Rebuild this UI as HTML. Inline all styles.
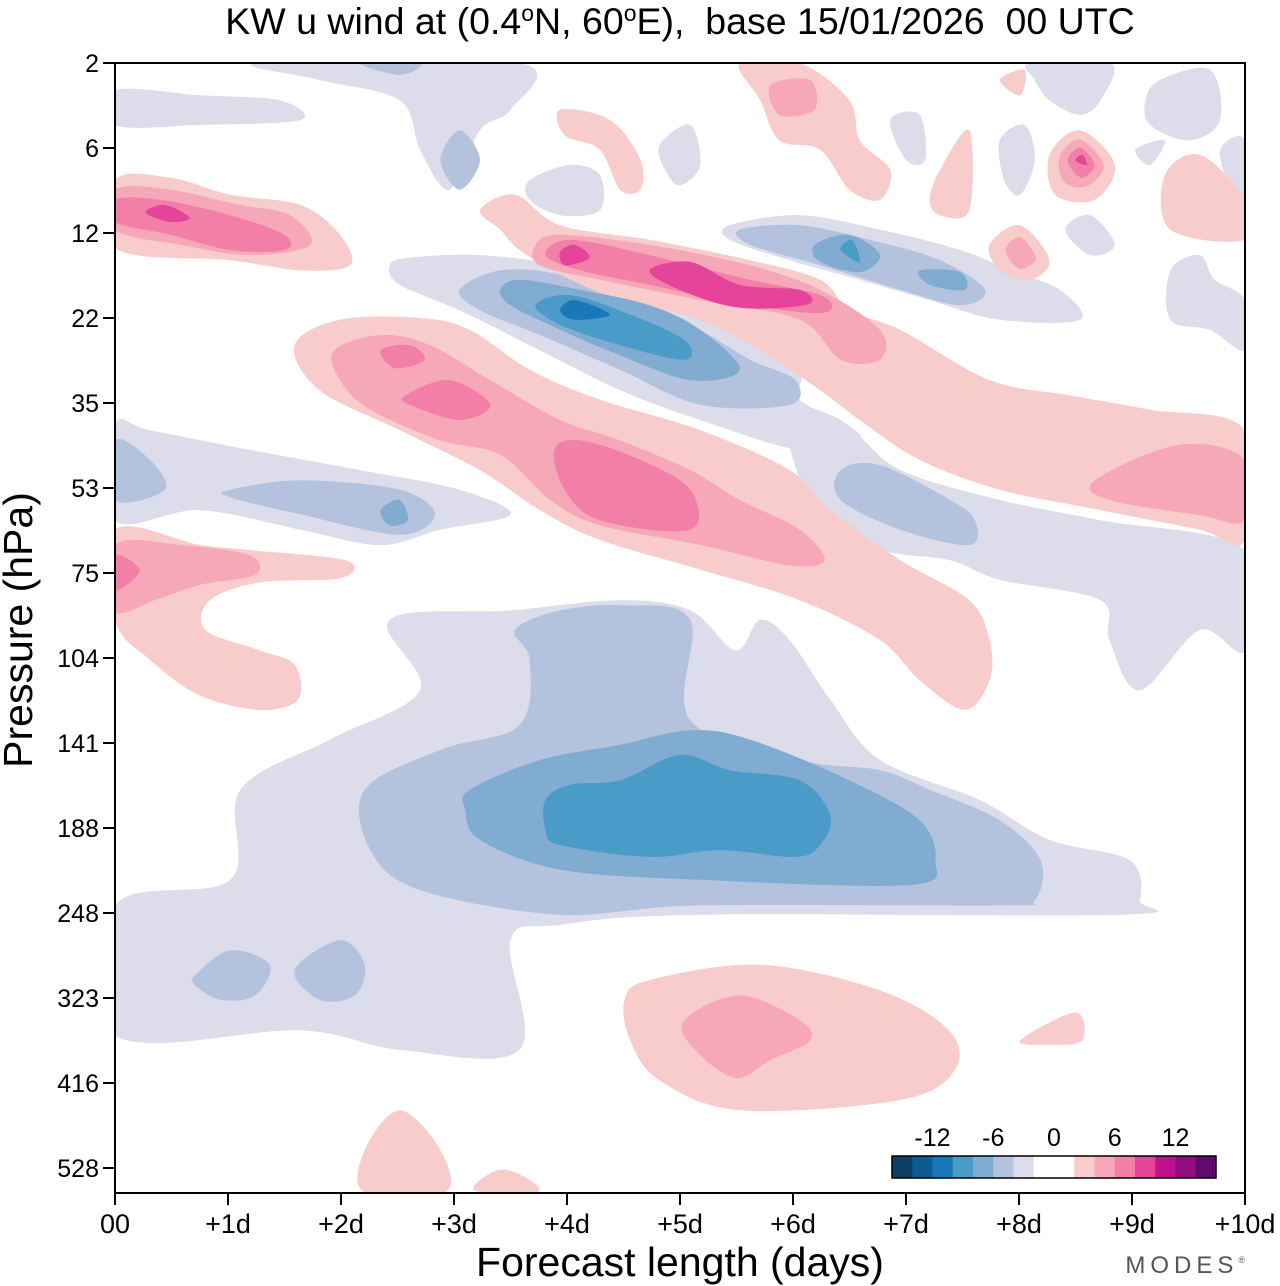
<!DOCTYPE html>
<html><head><meta charset="utf-8">
<style>
body{margin:0;background:#fff;}
svg{display:block;font-family:"Liberation Sans",sans-serif;}
</style></head>
<body>
<svg id="chart" width="1280" height="1286" viewBox="0 0 1280 1286">
<text x="680" y="34" font-size="37.5" text-anchor="middle" style="white-space:pre">KW u wind at (0.4<tspan dy="-13" font-size="23">o</tspan><tspan dy="13">N, 60</tspan><tspan dy="-13" font-size="23">o</tspan><tspan dy="13">E),  base 15/01/2026  00 UTC</tspan></text>
<g id="plot"></g>
<g id="axes"></g>
<text x="680" y="1276" font-size="41" text-anchor="middle">Forecast length (days)</text>
<text transform="translate(32,630) rotate(-90)" font-size="41" text-anchor="middle">Pressure (hPa)</text>
<text x="1250" y="1273" font-size="24" text-anchor="end" fill="#555" letter-spacing="5">MODES<tspan font-size="9" dy="-10">®</tspan></text>
<g id="legend"></g>
</svg>
<script>
const pressureLabels=["2","6","12","22","35","53","75","104","141","188","248","323","416","528"];
const dayLabels=["00","+1d","+2d","+3d","+4d","+5d","+6d","+7d","+8d","+9d","+10d"];
const levelColors={"-5":"#0b5c8f","-4":"#1779b8","-3":"#4a9bc8","-2":"#80acd2","-1":"#b3c3dd","0":"#dcdcea","1":"#f9cccc","2":"#f6a8b8","3":"#f27fa8","4":"#e6449a"};
const legendColors=["#0b3e62","#0b5c8f","#1779b8","#4a9bc8","#80acd2","#b3c3dd","#dcdcea","#ffffff","#ffffff","#f9cccc","#f6a8b8","#f27fa8","#e6449a","#c0118a","#8f0d7e","#5e0a6e"];
const legendLabels=["-12","-6","0","6","12"];
const legendValues=[-12,-6,0,6,12];
// contour regions: level and vertices [day, pressure-level index]
const regions=[
{lv:0,p:[[0,9.91],[1.02,9.61],[1.11,8.55],[1.9,7.96],[2.7,7.38],[2.43,6.55],[3.5,6.44],[4.47,6.32],[5.09,6.44],[5.49,6.91],[5.71,6.55],[5.97,6.79],[6.33,7.49],[6.77,8.2],[7.65,8.67],[8.27,9.14],[8.98,9.38],[9.07,9.85],[8.89,10.02],[5.18,10.02],[3.94,10.14],[3.5,10.32],[3.58,11.61],[2.52,11.61],[1.64,11.38],[0,11.44]]},
{lv:0,p:[[0,4.26],[0.31,4.32],[1.19,4.55],[2.17,4.79],[3.05,5.02],[3.5,5.31],[2.88,5.49],[2.35,5.67],[1.64,5.49],[0.75,5.26],[0,5.38]]},
{lv:0,p:[[5.97,4.2],[6.5,4.32],[6.95,4.79],[7.83,5.14],[8.72,5.38],[10,5.73],[10,6.91],[9.6,6.67],[9.07,7.38],[8.8,6.79],[8.72,6.32],[7.83,6.08],[7.39,5.85],[6.77,5.73],[6.24,5.38],[6.06,4.91]]},
{lv:0,p:[[2.43,2.38],[2.61,2.29],[3.23,2.26],[3.94,2.38],[4.47,2.61],[5.18,2.91],[5.71,3.26],[6.06,3.61],[6.06,3.96],[6.42,4.2],[6.59,4.44],[6.06,4.55],[5.18,4.2],[4.47,3.85],[3.76,3.38],[3.05,2.91],[2.52,2.61]]},
{lv:0,p:[[5.44,1.91],[6.06,1.79],[6.77,1.96],[7.48,2.2],[7.92,2.44],[8.36,2.67],[8.54,3.02],[7.83,3.02],[7.21,2.79],[6.59,2.55],[5.97,2.32],[5.44,2.08]]},
{lv:0,p:[[0,0.32],[0.75,0.38],[1.46,0.44],[1.64,0.67],[0.75,0.73],[0,0.73]]},
{lv:0,p:[[1.28,0],[3.58,0],[3.5,0.55],[3.23,0.79],[2.96,1.49],[2.7,1.02],[2.52,0.44],[1.81,0.2]]},
{lv:0,p:[[3.67,1.38],[4.03,1.2],[4.29,1.32],[4.29,1.73],[3.94,1.79],[3.67,1.61]]},
{lv:0,p:[[4.82,0.96],[5.09,0.73],[5.18,1.2],[5,1.44],[4.87,1.26]]},
{lv:0,p:[[8.1,0],[8.81,0],[8.72,0.44],[8.54,0.61],[8.27,0.44],[8.14,0.2]]},
{lv:0,p:[[9.25,0.2],[9.69,0.08],[9.78,0.67],[9.51,0.91],[9.16,0.73],[9.12,0.44]]},
{lv:0,p:[[7.83,0.91],[8.05,0.73],[8.14,1.14],[8.01,1.55],[7.87,1.38]]},
{lv:0,p:[[9.03,1.02],[9.29,0.91],[9.16,1.2]]},
{lv:0,p:[[9.78,1.02],[10,0.91],[10,1.79],[9.87,1.49]]},
{lv:0,p:[[9.34,2.44],[9.6,2.26],[9.73,2.55],[10,2.79],[10,3.38],[9.69,3.14],[9.34,3.02]]},
{lv:0,p:[[8.41,1.96],[8.63,1.79],[8.85,2.14],[8.63,2.26]]},
{lv:0,p:[[6.86,0.67],[7.12,0.61],[7.17,1.14],[7,1.14]]},
{lv:-1,p:[[2.21,8.55],[2.88,8.08],[3.58,7.79],[3.67,7.02],[3.54,6.67],[3.94,6.44],[4.51,6.38],[5.09,6.55],[5.09,7.73],[6.06,8.2],[6.77,8.32],[7.21,8.55],[7.83,8.91],[8.19,9.38],[8.14,9.85],[7.83,9.91],[5.18,9.91],[3.94,10.02],[2.7,9.73],[2.26,9.26]]},
{lv:-1,p:[[0.71,10.73],[1.02,10.44],[1.37,10.61],[1.24,10.97],[0.93,11.02],[0.71,10.85]]},
{lv:-1,p:[[1.59,10.67],[1.99,10.32],[2.21,10.61],[2.12,10.97],[1.81,11.02]]},
{lv:-1,p:[[0,4.44],[0.31,4.67],[0.44,5.02],[0,5.14]]},
{lv:-1,p:[[1.02,5.02],[1.64,4.91],[2.52,5.02],[2.83,5.31],[2.52,5.55],[1.64,5.31],[1.02,5.11]]},
{lv:-1,p:[[6.42,4.79],[6.77,4.73],[7.39,5.14],[7.61,5.38],[7.56,5.67],[6.95,5.49],[6.42,5.14]]},
{lv:-1,p:[[3.05,2.67],[3.41,2.44],[3.94,2.49],[4.65,2.79],[5.18,3.14],[5.62,3.49],[6.02,3.73],[5.97,4.02],[5.18,4.02],[4.47,3.61],[3.76,3.2],[3.23,2.91]]},
{lv:-1,p:[[5.53,1.96],[6.06,1.91],[6.68,2.08],[7.3,2.32],[7.7,2.67],[7.48,2.85],[6.95,2.67],[6.24,2.38],[5.62,2.14]]},
{lv:-1,p:[[2.17,0],[2.7,0],[2.52,0.14]]},
{lv:-1,p:[[2.88,1.14],[3.05,0.79],[3.23,1.14],[3.05,1.49]]},
{lv:-2,p:[[3.14,8.55],[3.76,8.2],[4.47,8.02],[5.09,7.85],[5.62,7.96],[6.5,8.44],[7.12,8.91],[7.26,9.38],[7.04,9.67],[5.18,9.61],[3.94,9.49],[3.23,9.14],[3.1,8.79]]},
{lv:-2,p:[[2.35,5.26],[2.52,5.14],[2.59,5.38],[2.43,5.44]]},
{lv:-2,p:[[3.41,2.67],[3.58,2.55],[4.12,2.67],[4.73,2.85],[5.18,3.14],[5.53,3.61],[5.09,3.73],[4.47,3.44],[3.94,3.14],[3.5,2.85]]},
{lv:-2,p:[[6.19,2.14],[6.5,2.02],[6.77,2.26],[6.59,2.46],[6.24,2.34]]},
{lv:-2,p:[[7.12,2.44],[7.48,2.46],[7.52,2.67],[7.21,2.61]]},
{lv:-3,p:[[3.81,8.67],[4.03,8.49],[4.47,8.44],[5,8.14],[5.44,8.32],[6.06,8.44],[6.33,8.85],[6.24,9.2],[6.02,9.34],[5.35,9.26],[4.73,9.34],[3.94,9.2],[3.81,9.02]]},
{lv:-3,p:[[3.72,2.85],[4.03,2.73],[4.56,2.96],[5.04,3.26],[5.04,3.49],[4.47,3.32],[3.94,3.08]]},
{lv:-3,p:[[6.42,2.2],[6.52,2.08],[6.59,2.34]]},
{lv:-4,p:[[3.94,2.91],[4.07,2.79],[4.38,2.96],[4.07,3.02]]},
{lv:1,p:[[4.51,11.02],[4.73,10.79],[5.71,10.61],[6.77,10.91],[7.38,11.38],[7.43,11.85],[6.95,12.2],[5.53,12.32],[4.82,11.97],[4.56,11.5]]},
{lv:1,p:[[8.01,11.5],[8.5,11.17],[8.56,11.5],[8.27,11.55]]},
{lv:1,p:[[2.21,12.79],[2.52,12.32],[2.88,12.79],[2.92,13.29],[2.21,13.29]]},
{lv:1,p:[[3.18,13.26],[3.4,13.02],[3.67,13.14],[3.72,13.29]]},
{lv:1,p:[[0,5.49],[0.75,5.67],[1.19,5.73],[2.04,5.85],[2,6.06],[1.28,6.11],[0.84,6.32],[0.8,6.67],[1.28,6.91],[1.59,7.08],[1.62,7.49],[1.28,7.61],[0.75,7.44],[0.31,7.02],[0,6.55]]},
{lv:1,p:[[1.59,3.32],[1.99,3.02],[2.7,3],[3.14,3.14],[3.67,3.61],[4.29,3.96],[5.18,4.32],[5.97,4.79],[6.33,5.26],[6.95,5.85],[7.56,6.32],[7.74,6.79],[7.74,7.26],[7.52,7.61],[7.12,7.26],[6.77,6.79],[6.06,6.32],[5.18,5.96],[4.29,5.61],[3.76,5.26],[3.23,4.79],[2.52,4.32],[1.81,3.85]]},
{lv:1,p:[[3.23,1.73],[3.54,1.55],[3.94,1.91],[4.73,2.08],[5.62,2.32],[6.24,2.55],[6.5,2.91],[6.95,3.14],[7.74,3.73],[8.45,3.91],[9.16,4.08],[10,4.32],[10,5.61],[9.6,5.49],[8.72,5.26],[7.83,5.02],[7.12,4.67],[6.59,4.2],[6.24,3.85],[5.71,3.38],[5.18,3.02],[4.47,2.79],[3.94,2.49],[3.58,2.2],[3.41,1.96]]},
{lv:1,p:[[0,1.38],[0.49,1.35],[1.02,1.55],[1.64,1.67],[1.99,2.02],[2.08,2.38],[1.64,2.44],[1.02,2.32],[0,2.18]]},
{lv:1,p:[[5.53,0],[6.06,0],[6.5,0.44],[6.59,0.91],[6.86,1.26],[6.77,1.61],[6.5,1.49],[6.24,1.02],[5.88,0.91],[5.71,0.44]]},
{lv:1,p:[[3.94,0.55],[4.38,0.67],[4.65,1.14],[4.65,1.49],[4.47,1.49],[4.29,1.02],[3.98,0.85]]},
{lv:1,p:[[7.3,1.26],[7.56,0.79],[7.56,1.73],[7.3,1.79],[7.21,1.61]]},
{lv:1,p:[[8.27,1.08],[8.54,0.79],[8.85,1.2],[8.67,1.61],[8.32,1.55]]},
{lv:1,p:[[9.29,1.32],[9.6,1.08],[10,1.61],[10,2.08],[9.34,1.96]]},
{lv:1,p:[[7.74,2.14],[8.01,1.91],[8.27,2.32],[8.1,2.55],[7.83,2.44]]},
{lv:1,p:[[7.83,0.2],[8.05,0.08],[8.01,0.38]]},
{lv:2,p:[[5.04,11.26],[5.53,10.97],[6.06,11.26],[6.15,11.5],[5.8,11.73],[5.49,11.94],[5.13,11.61]]},
{lv:2,p:[[0,5.67],[0.58,5.67],[1.19,5.79],[1.24,6.02],[0.75,6.14],[0.35,6.32],[0,6.44]]},
{lv:2,p:[[1.94,3.38],[2.35,3.2],[2.79,3.32],[3.32,3.73],[3.94,4.2],[4.47,4.44],[5.09,4.79],[5.53,5.14],[6.06,5.49],[6.28,5.85],[5.97,5.91],[5.18,5.67],[4.29,5.44],[3.85,5.14],[3.41,4.61],[2.88,4.44],[2.26,4.08],[1.99,3.73]]},
{lv:2,p:[[3.72,2.14],[3.94,2.02],[4.73,2.14],[5.62,2.38],[6.24,2.67],[6.77,3.14],[6.77,3.49],[6.42,3.49],[6.06,3.02],[5.18,2.79],[4.29,2.55],[3.76,2.38]]},
{lv:2,p:[[8.67,4.91],[9.42,4.49],[10,4.67],[10,5.38],[9.6,5.32],[8.8,5.14]]},
{lv:2,p:[[0,1.49],[0.49,1.49],[1.11,1.67],[1.55,1.79],[1.73,2.14],[1.2,2.26],[0.58,2.14],[0,1.96]]},
{lv:2,p:[[5.8,0.26],[6.15,0.2],[6.19,0.55],[5.88,0.61]]},
{lv:2,p:[[8.36,1.1],[8.54,0.9],[8.75,1.2],[8.6,1.45],[8.4,1.4]]},
{lv:2,p:[[7.88,2.2],[8.01,2.05],[8.15,2.3],[8.0,2.42]]},
{lv:3,p:[[0,5.79],[0.22,5.97],[0,6.2]]},
{lv:3,p:[[2.35,3.38],[2.61,3.32],[2.74,3.49],[2.48,3.59]]},
{lv:3,p:[[2.57,3.91],[2.96,3.73],[3.32,4.02],[3.05,4.2],[2.61,4.02]]},
{lv:3,p:[[3.89,4.55],[4.12,4.44],[4.65,4.67],[5.09,5.02],[5.09,5.49],[4.29,5.38],[3.98,5.02]]},
{lv:3,p:[[3.81,2.26],[4.03,2.08],[4.73,2.26],[5.62,2.55],[6.24,2.73],[6.33,2.91],[6.06,2.93],[5.35,2.79],[4.73,2.61],[4.12,2.44]]},
{lv:3,p:[[0,1.61],[0.4,1.61],[1.02,1.79],[1.5,2.02],[1.5,2.2],[1.02,2.2],[0.49,2.02],[0,1.87]]},
{lv:3,p:[[8.43,1.15],[8.54,1.0],[8.67,1.2],[8.55,1.35]]},
{lv:4,p:[[3.94,2.22],[4.07,2.14],[4.2,2.29],[3.98,2.38]]},
{lv:4,p:[[4.73,2.44],[5.09,2.34],[5.53,2.61],[6.06,2.67],[6.13,2.84],[5.53,2.88],[5,2.67]]},
{lv:4,p:[[0.27,1.76],[0.44,1.67],[0.66,1.82],[0.49,1.87]]},
{lv:4,p:[[8.5,1.15],[8.56,1.08],[8.6,1.2]]}
];
const NS="http://www.w3.org/2000/svg";
const X0=115,X1=1245,Y0=63,YSTEP=85,YB=1193;
const xScale=d=>X0+d*(X1-X0)/10;
const yScale=i=>Y0+i*YSTEP;
function smoothPath(pts){
  const P=pts.map(q=>[xScale(q[0]),yScale(q[1])]);
  const n=P.length;let d="M"+P[0][0].toFixed(1)+","+P[0][1].toFixed(1);
  for(let k=0;k<n;k++){
    const p0=P[(k-1+n)%n],p1=P[k],p2=P[(k+1)%n],p3=P[(k+2)%n];
    const c1=[p1[0]+(p2[0]-p0[0])/6,p1[1]+(p2[1]-p0[1])/6];
    const c2=[p2[0]-(p3[0]-p1[0])/6,p2[1]-(p3[1]-p1[1])/6];
    d+="C"+c1.map(v=>v.toFixed(1)).join(",")+" "+c2.map(v=>v.toFixed(1)).join(",")+" "+p2[0].toFixed(1)+","+p2[1].toFixed(1);
  }
  return d+"Z";
}
const plot=document.getElementById("plot");
const defs=document.createElementNS(NS,"defs");
defs.innerHTML='<clipPath id="clip"><rect x="115" y="63" width="1130" height="1130"/></clipPath>';
document.getElementById("chart").appendChild(defs);
plot.setAttribute("clip-path","url(#clip)");
const order=[0,-1,1,-2,2,-3,3,-4,4,-5];
order.forEach(lv=>{
  regions.filter(r=>r.lv===lv).forEach(r=>{
    const path=document.createElementNS(NS,"path");
    path.setAttribute("d",smoothPath(r.p));
    path.setAttribute("fill",levelColors[String(lv)]);
    
    
    plot.appendChild(path);
  });
});
const axes=document.getElementById("axes");
const frame=document.createElementNS(NS,"rect");
frame.setAttribute("x",X0);frame.setAttribute("y",Y0);frame.setAttribute("width",X1-X0);frame.setAttribute("height",YB-Y0);
frame.setAttribute("fill","none");frame.setAttribute("stroke","#000");frame.setAttribute("stroke-width","2");


axes.appendChild(frame);
pressureLabels.forEach((lab,i)=>{
  const y=yScale(i);
  const t=document.createElementNS(NS,"line");
  t.setAttribute("x1",X0-12);t.setAttribute("x2",X0);t.setAttribute("y1",y);t.setAttribute("y2",y);t.setAttribute("stroke","#000");t.setAttribute("stroke-width","2");
  
  
  axes.appendChild(t);
  const tx=document.createElementNS(NS,"text");
  tx.setAttribute("x",X0-16);tx.setAttribute("y",y+9);tx.setAttribute("text-anchor","end");tx.setAttribute("font-size","25");
  tx.textContent=lab;
  
  
  axes.appendChild(tx);
});
dayLabels.forEach((lab,d)=>{
  const x=xScale(d);
  const t=document.createElementNS(NS,"line");
  t.setAttribute("x1",x);t.setAttribute("x2",x);t.setAttribute("y1",YB);t.setAttribute("y2",YB+12);t.setAttribute("stroke","#000");t.setAttribute("stroke-width","2");
  
  
  axes.appendChild(t);
  const tx=document.createElementNS(NS,"text");
  tx.setAttribute("x",x);tx.setAttribute("y",YB+40);tx.setAttribute("text-anchor","middle");tx.setAttribute("font-size","27");
  tx.textContent=lab;
  
  
  axes.appendChild(tx);
});
const legend=document.getElementById("legend");
const LX=892,LW=324,LY=1156,LH=22,bw=LW/legendColors.length;
legendColors.forEach((c,k)=>{
  const r=document.createElementNS(NS,"rect");
  r.setAttribute("x",LX+k*bw);r.setAttribute("y",LY);r.setAttribute("width",bw+0.5);r.setAttribute("height",LH);r.setAttribute("fill",c);
  
  
  legend.appendChild(r);
});
const lf=document.createElementNS(NS,"rect");
lf.setAttribute("x",LX);lf.setAttribute("y",LY);lf.setAttribute("width",LW);lf.setAttribute("height",LH);lf.setAttribute("fill","none");lf.setAttribute("stroke","#000");lf.setAttribute("stroke-width","1.5");


legend.appendChild(lf);
const legX=v=>LX+LW/2+v*bw/2;
legendValues.forEach((v,k)=>{
  const tx=document.createElementNS(NS,"text");
  tx.setAttribute("x",legX(v));tx.setAttribute("y",LY-10);tx.setAttribute("text-anchor","middle");tx.setAttribute("font-size","25");
  tx.textContent=legendLabels[k];
  
  
  legend.appendChild(tx);
});
</script>
</body></html>
